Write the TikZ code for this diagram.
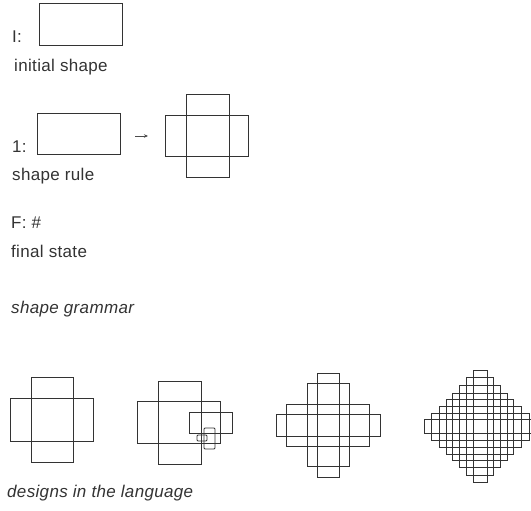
\documentclass[tikz,border=0pt]{standalone}
\usepackage{fontspec}
\setmainfont[LetterSpace=2]{Liberation Sans}
\usetikzlibrary{arrows.meta}
\begin{document}
\begin{tikzpicture}[x=1pt,y=-1pt,
  shp/.style={draw=black!80, line width=0.9pt},
  lbl/.style={anchor=base west, inner sep=0pt, text=black!80, font=\fontsize{17}{20}\selectfont},
  captxt/.style={anchor=base west, inner sep=0pt, text=black!80, font=\fontsize{17}{20}\selectfont\itshape}]
\useasboundingbox (0,0) rectangle (531,511);

% initial shape
\node[shp, inner sep=0pt, minimum width=83pt, minimum height=42pt] (init) at (80.5,24) {};
\node[lbl] (Ilab) at (12,43) {I:};
\node[lbl] (initlab) at (14,72) {initial shape};

% shape rule
\node[shp, inner sep=0pt, minimum width=83pt, minimum height=41pt] (ruleL) at (78.5,133.5) {};
\node[lbl] (onelab) at (12,153) {1:};
\node[shp, inner sep=0pt, minimum width=83pt, minimum height=41pt] (ruleH) at (206.5,135.5) {};
\node[shp, inner sep=0pt, minimum width=43pt, minimum height=83pt] (ruleV) at (207.5,135.5) {};
\coordinate (arrS) at (135,136);
\coordinate (arrE) at (148,136);
\draw[draw=black!70, line width=0.7pt, -{Stealth[length=4pt,width=3.5pt]}] (arrS) -- (arrE);
\node[lbl] (rulelab) at (12,180) {shape rule};

% final state
\node[lbl] (Flab) at (11,228) {F: \#};
\node[lbl] (finallab) at (11,257) {final state};

\node[captxt] (sg) at (11,313) {shape grammar};

% design 1
\node[shp, inner sep=0pt, minimum width=83pt, minimum height=43pt] (d1h) at (51.5,419.5) {};
\node[shp, inner sep=0pt, minimum width=42pt, minimum height=85pt] (d1v) at (52,419.5) {};

% design 2
\node[shp, inner sep=0pt, minimum width=83pt, minimum height=42pt] (d2h) at (178.5,422) {};
\node[shp, inner sep=0pt, minimum width=43pt, minimum height=83pt] (d2v) at (179.5,422.5) {};
\node[shp, inner sep=0pt, minimum width=43pt, minimum height=21pt] (d2s) at (210.5,422.5) {};
\node[shp, inner sep=0pt, minimum width=11pt, minimum height=21pt, rounded corners=1pt] (d2t) at (209.5,438.5) {};
\node[shp, inner sep=0pt, minimum width=10pt, minimum height=6pt, rounded corners=1pt] (d2u) at (202,438) {};

% design 3
\foreach \w/\h in {52/11, 41.5/21} {
  \draw[shp] (328-\w,425-\h) rectangle (328+\w,425+\h);
  \draw[shp] (328-\h,425-\w) rectangle (328+\h,425+\w);
}

% design 4
\foreach \w/\h in {56/7, 49/13.5, 41/20.5, 33.5/27.5} {
  \draw[shp] (480-\w,426.5-\h) rectangle (480+\w,426.5+\h);
  \draw[shp] (480-\h,426.5-\w) rectangle (480+\h,426.5+\w);
}

\node[captxt] (dl) at (7,497) {designs in the language};
\end{tikzpicture}
\end{document}
